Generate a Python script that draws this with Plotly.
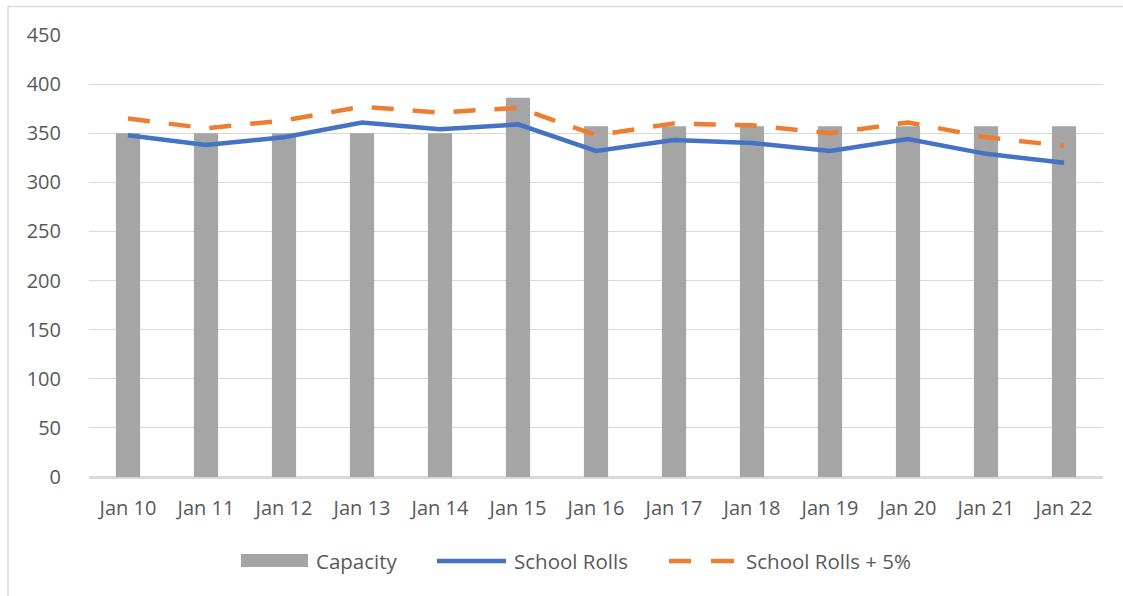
import plotly.graph_objects as go

categories = ["Jan 10", "Jan 11", "Jan 12", "Jan 13", "Jan 14", "Jan 15", "Jan 16",
              "Jan 17", "Jan 18", "Jan 19", "Jan 20", "Jan 21", "Jan 22"]
capacity = [350, 350, 350, 350, 350, 386, 357, 357, 357, 357, 357, 357, 357]
school_rolls = [348, 338, 346, 361, 354, 359, 332, 343, 340, 332, 344, 329, 320]
school_rolls_5 = [365, 355, 363, 377, 371, 376, 348, 360, 358, 350, 361, 346, 337]
y_ticks = [0, 50, 100, 150, 200, 250, 300, 350, 400, 450]

GRAY = "#A5A5A5"
BLUE = "#4472C4"
ORANGE = "#ED7D31"
TEXT = "#595959"
GRID = "#D9D9D9"
FONT = "Open Sans"

W, H = 1123, 596
L, R, T, B = 89, 20, 35, 119
PW, PH = W - L - R, H - T - B


def px(x):
    return (x - L) / PW


def py(y):
    return (H - B - y) / PH


fig = go.Figure()
fig.add_trace(go.Bar(x=categories, y=capacity, name="Capacity",
                     marker=dict(color=GRAY, line=dict(width=0))))
fig.add_trace(go.Scatter(x=categories, y=school_rolls, name="School Rolls", mode="lines",
                         line=dict(color=BLUE, width=4.5)))
fig.add_trace(go.Scatter(x=categories, y=school_rolls_5, name="School Rolls + 5%", mode="lines",
                         line=dict(color=ORANGE, width=4.5, dash="22px,19px")))

shapes = [
    # chart border
    dict(type="rect", xref="paper", yref="paper", x0=px(8), x1=px(1130), y0=py(605), y1=py(6.5),
         line=dict(color=GRID, width=1.5), fillcolor="rgba(0,0,0,0)", layer="below"),
    # legend swatches
    dict(type="rect", xref="paper", yref="paper", x0=px(241), x1=px(308), y0=py(567), y1=py(554),
         line=dict(width=0), fillcolor=GRAY),
    dict(type="line", xref="paper", yref="paper", x0=px(437), x1=px(506), y0=py(561), y1=py(561),
         line=dict(color=BLUE, width=4.5)),
    dict(type="line", xref="paper", yref="paper", x0=px(669), x1=px(691), y0=py(561), y1=py(561),
         line=dict(color=ORANGE, width=4.5)),
    dict(type="line", xref="paper", yref="paper", x0=px(711), x1=px(734), y0=py(561), y1=py(561),
         line=dict(color=ORANGE, width=4.5)),
]

annotations = []
for label, xpos in [("Capacity", 314), ("School Rolls", 512), ("School Rolls + 5%", 744)]:
    annotations.append(dict(text=label, xref="paper", yref="paper", x=px(xpos), y=py(561),
                            xanchor="left", yanchor="middle", showarrow=False,
                            font=dict(family=FONT, size=20.5, color=TEXT)))

fig.update_layout(
    width=W, height=H,
    margin=dict(l=L, r=R, t=T, b=B),
    paper_bgcolor="white", plot_bgcolor="white",
    showlegend=False,
    bargap=0.69,
    font=dict(family=FONT, size=20, color=TEXT),
    shapes=shapes,
    annotations=annotations,
    xaxis=dict(type="category", showgrid=False, showline=True, linecolor=GRID, linewidth=1.5,
               ticks="", ticklabelstandoff=12, tickfont=dict(family=FONT, size=20, color=TEXT)),
    yaxis=dict(range=[0, 450], tickvals=y_ticks, showgrid=True, gridcolor=GRID, gridwidth=1.3,
               zeroline=True, zerolinecolor=GRID, zerolinewidth=1.5, showline=False,
               ticks="", ticklabelstandoff=27, tickfont=dict(family=FONT, size=20, color=TEXT)),
)

fig.write_html("out.html",
               config={"displayModeBar": False},
               post_script="document.body.style.margin='0px';document.body.style.overflow='hidden';")
